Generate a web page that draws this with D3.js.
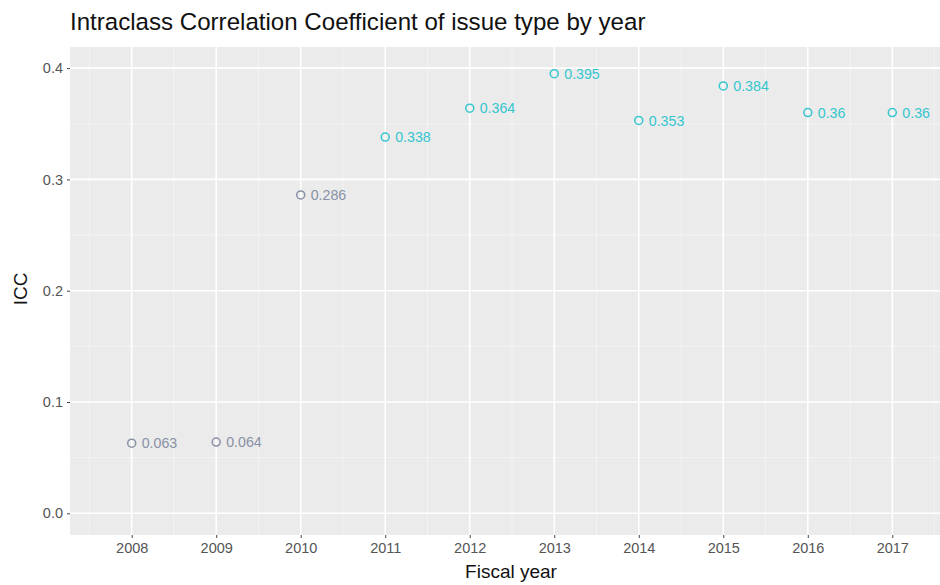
<!DOCTYPE html>
<html><head><meta charset="utf-8">
<script src="https://cdn.jsdelivr.net/npm/d3@7"></script>
<style>body{margin:0;background:#fff;} text{font-family:"Liberation Sans",Arial,sans-serif;}</style>
</head><body>
<svg id="c" width="940" height="585"></svg>
<script>
const years = [2008,2009,2010,2011,2012,2013,2014,2015,2016,2017];
const icc = [0.063,0.064,0.286,0.338,0.364,0.395,0.353,0.384,0.36,0.36];
const group = ["low","low","low","high","high","high","high","high","high","high"];
const yTicks = [0.0,0.1,0.2,0.3,0.4];
const colors = {low:"#8891a5", high:"#35c6cf"};

const svg = d3.select("#c");
const L=70, R=940, T=47, B=535;
const x = d3.scaleLinear().domain([2008,2017]).range([131.7,892.3]);
const y = d3.scaleLinear().domain([0,0.4]).range([513.3,68.1]);

svg.append("rect").attr("x",L).attr("y",T).attr("width",R-L).attr("height",B-T).attr("fill","#ebebeb");
const g = svg.append("g");
const minorX = d3.range(2007.5,2018,1);
const minorY = [-0.05,0.05,0.15,0.25,0.35];
g.selectAll(".mx").data(minorX).join("line").attr("x1",d=>x(d)).attr("x2",d=>x(d)).attr("y1",T).attr("y2",B).attr("stroke","#f5f5f5").attr("stroke-width",0.8);
g.selectAll(".my").data(minorY.filter(d=>y(d)>T&&y(d)<B)).join("line").attr("y1",d=>y(d)).attr("y2",d=>y(d)).attr("x1",L).attr("x2",R).attr("stroke","#f5f5f5").attr("stroke-width",0.8);
g.selectAll(".Mx").data(years).join("line").attr("x1",d=>x(d)).attr("x2",d=>x(d)).attr("y1",T).attr("y2",B).attr("stroke","#fff").attr("stroke-width",1.6);
g.selectAll(".My").data(yTicks).join("line").attr("y1",d=>y(d)).attr("y2",d=>y(d)).attr("x1",L).attr("x2",R).attr("stroke","#fff").attr("stroke-width",1.6);

const xAxis = d3.axisBottom(x).tickValues(years).tickFormat(d3.format("d")).tickSize(3).tickPadding(5);
const xa = svg.append("g").attr("transform",`translate(0,${B})`).call(xAxis);
xa.select(".domain").remove();
xa.selectAll("line").attr("stroke","#444");
xa.selectAll("text").attr("fill","#555").attr("font-size",14.5).attr("font-family","Liberation Sans, Arial, sans-serif");
const yAxis = d3.axisLeft(y).tickValues(yTicks).tickFormat(d3.format(".1f")).tickSize(3).tickPadding(4);
const ya = svg.append("g").attr("transform",`translate(${L},0)`).call(yAxis);
ya.select(".domain").remove();
ya.selectAll("line").attr("stroke","#444");
ya.selectAll("text").attr("fill","#555").attr("font-size",14.5).attr("font-family","Liberation Sans, Arial, sans-serif");

const data = years.map((d,i)=>({year:d, v:icc[i], g:group[i]}));
svg.selectAll(".pt").data(data).join("circle").attr("cx",d=>x(d.year)).attr("cy",d=>y(d.v)).attr("r",4)
  .attr("fill","none").attr("stroke",d=>colors[d.g]).attr("stroke-width",1.5);
svg.selectAll(".lb").data(data).join("text").attr("x",d=>x(d.year)+10).attr("y",d=>y(d.v)).attr("dy","0.36em")
  .attr("font-size",14.2).attr("fill",d=>colors[d.g]).text(d=>String(d.v));

svg.append("text").attr("x",70).attr("y",30).attr("font-size",24.1).attr("fill","#111").text("Intraclass Correlation Coefficient of issue type by year");
svg.append("text").attr("x",511).attr("y",578).attr("text-anchor","middle").attr("font-size",19).attr("fill","#111").text("Fiscal year");
svg.append("text").attr("transform",`translate(27,289) rotate(-90)`).attr("text-anchor","middle").attr("font-size",19).attr("fill","#111").text("ICC");
</script>
</body></html>
